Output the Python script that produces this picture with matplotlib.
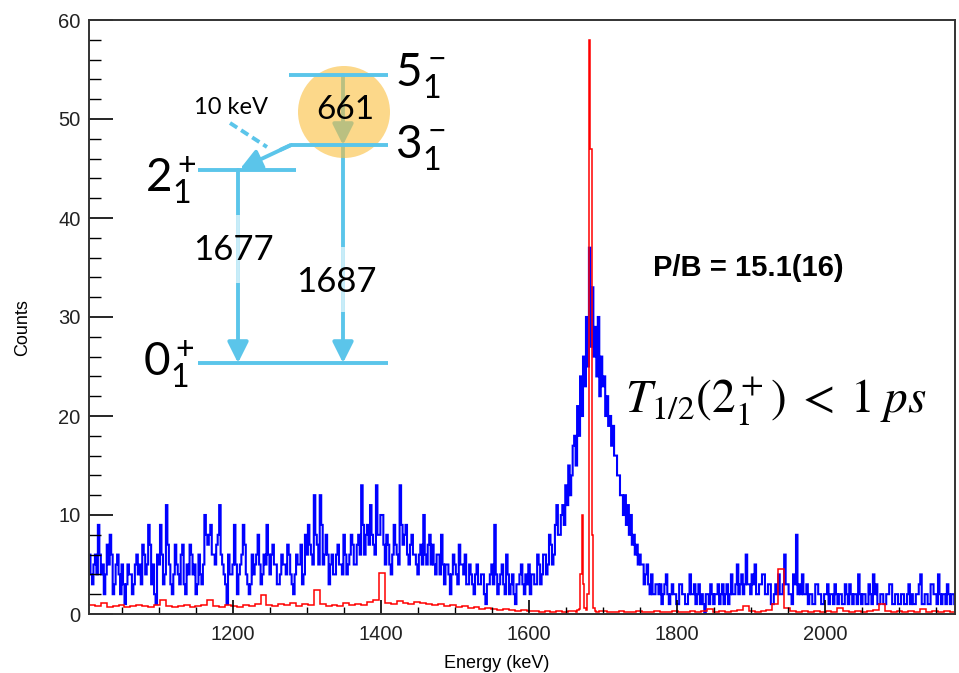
import numpy as np
import matplotlib
matplotlib.use("Agg")
import matplotlib.pyplot as plt
from matplotlib.patches import Ellipse, FancyArrowPatch
from matplotlib.lines import Line2D
from matplotlib.ticker import MultipleLocator

# --- blue spectrum, 2 keV bins starting at 1005 keV ---
blue_bin0 = 1005
blue_width = 2
blue_counts = [
    # 1005 - 1157
    6, 4, 3, 5, 6, 4, 9, 6, 4, 5, 2, 4, 7, 5, 8, 6, 2, 3, 5, 6,
    4, 2, 5, 3, 1, 3, 5, 4, 4, 2, 3, 5, 6, 4, 5, 3, 7, 6, 4, 5,
    9, 7, 3, 5, 2, 1, 6, 5, 9, 6, 3, 4, 11, 7, 5, 3, 2, 4, 7, 5,
    4, 3, 6, 7, 3, 2, 5, 4, 7, 6, 4, 5, 2, 3, 6, 4,
    # 1157 - 1309
    3, 5, 10, 8, 7, 8, 9, 6, 6, 5, 7, 8, 11, 6, 5, 4, 3, 1, 6, 4,
    4, 5, 9, 5, 2, 4, 5, 6, 9, 7, 4, 3, 2, 3, 6, 4, 5, 6, 8, 5,
    3, 4, 6, 5, 9, 6, 4, 6, 7, 5, 5, 3, 3, 4, 6, 5, 5, 4, 7, 6,
    4, 3, 2, 4, 6, 5, 5, 7, 3, 4, 8, 6, 9, 7, 6, 5,
    # 1309 - 1457
    12, 8, 7, 5, 12, 9, 5, 6, 8, 6, 3, 5, 6, 4, 4, 6, 7, 5, 5, 4,
    8, 6, 4, 5, 6, 8, 7, 5, 5, 7, 8, 6, 13, 9, 6, 8, 9, 7, 11, 8,
    7, 6, 13, 8, 8, 10, 10, 7, 5, 8, 7, 5, 4, 6, 9, 7, 6, 5, 13, 9,
    7, 8, 9, 6, 5, 7, 8, 6, 6, 5, 4, 6, 7, 5,
    # 1457 - 1597
    10, 6, 5, 7, 8, 5, 7, 5, 4, 6, 6, 4, 8, 5, 3, 5, 5, 4, 2, 4,
    6, 5, 4, 3, 7, 5, 5, 4, 6, 3, 3, 5, 4, 3, 2, 4, 5, 3, 3, 4,
    4, 2, 1, 3, 3, 4, 5, 3, 9, 4, 2, 3, 4, 5, 3, 2, 6, 4, 2, 3,
    4, 2, 1, 3, 3, 4, 5, 3, 2, 4,
    # 1597 - 1777 (peak)
    3, 5, 2, 4, 4, 3, 3, 6, 5, 3, 4, 6, 6, 4, 5, 8, 7, 5, 6, 9,
    11, 8, 8, 10, 11, 9, 13, 11, 15, 12, 14, 17, 18, 15, 21, 18, 24, 20, 26, 23,
    30, 25, 37, 27, 33, 26, 29, 24, 30, 22, 26, 23, 24, 20, 22, 19, 20, 17, 19, 16,
    16, 14, 14, 12, 12, 10, 12, 9, 11, 8, 10, 7, 8, 6, 7, 5, 6, 5, 5, 3,
    4, 5, 3, 2, 4, 2, 2, 3, 3, 2,
    # 1777 - 2177
    3, 1, 2, 3, 4, 2, 1, 2, 3, 2, 2, 1, 1, 3, 3, 2, 2, 1, 1, 2,
    4, 2, 2, 3, 1, 2, 3, 1, 2, 1, 0, 2, 2, 1, 3, 2, 1, 2, 2, 3,
    1, 2, 3, 1, 2, 3, 1, 2, 4, 2, 2, 3, 5, 2, 3, 4, 2, 3, 6, 3,
    3, 2, 4, 3, 5, 2, 2, 3, 3, 4, 4, 2, 2, 3, 3, 1, 1, 2, 3, 2,
    4, 2, 2, 3, 6, 3, 3, 2, 2, 1, 4, 3, 8, 2, 3, 2, 4, 2, 2, 3,
    1, 2, 2, 1, 1, 3, 3, 2, 2, 1, 1, 2, 2, 3, 1, 2, 2, 1, 3, 2,
    1, 2, 2, 1, 1, 3, 2, 1, 3, 2, 1, 2, 2, 1, 4, 2, 1, 2, 2, 1,
    1, 3, 2, 1, 4, 2, 3, 1, 1, 2, 2, 1, 1, 2, 2, 3, 3, 1, 1, 2,
    2, 1, 1, 2, 2, 1, 1, 2, 3, 1, 2, 1, 1, 2, 2, 3, 4, 1, 1, 2,
    2, 1, 1, 3, 3, 2, 2, 1, 4, 2, 1, 2, 2, 1, 3, 2, 1, 2, 2, 1,
]

# --- red spectrum: 8 keV bins, 2 keV bins around the peak, 8 keV after ---
red_low = [
    0.9, 0.8, 1.1, 0.7, 0.8, 0.9, 0.7, 0.8, 0.9, 0.8, 0.7, 0.9, 1.4, 0.8, 0.7, 0.8,
    0.9, 0.7, 0.8, 0.9, 1.4, 0.8, 0.7, 0.9, 0.8, 0.7, 0.9, 0.8, 1.0, 1.9, 0.9, 0.8,
    1.0, 0.9, 1.1, 0.8, 1.0, 0.9, 2.4, 1.0, 0.8, 0.9, 0.8, 1.1, 0.9, 1.0, 0.9, 1.2,
    1.4, 4.1, 1.1, 1.0, 1.3, 1.1, 1.0, 1.2, 1.1, 1.0, 0.9, 1.0, 0.8, 0.9, 0.7, 0.8,
    0.6, 0.7, 0.5, 0.6, 0.5, 0.4, 0.5, 0.4, 0.3, 0.4, 0.3, 0.3, 0.2, 0.3, 0.2, 0.3,
    0.2, 0.3,
]
red_peak = [0.3, 0.2, 0.4, 0.5, 4.0, 10, 3.0, 0.6, 0.4, 2.0, 58, 47, 8, 0.6,
            0.3, 0.2, 0.2, 0.3]
red_high = [
    0.3, 0.2, 0.2, 0.3, 0.2, 0.2, 0.3, 0.2, 0.2, 0.3, 0.2, 0.2, 0.3, 0.2, 0.2, 0.3,
    0.2, 0.3, 0.5, 0.2, 0.3, 0.2, 0.3, 0.4, 0.8, 0.3, 0.2, 0.3, 0.4, 1.0, 4.5, 0.6,
    0.3, 0.2, 0.3, 0.2, 0.3, 0.2, 0.3, 0.2, 0.6, 0.3, 0.2, 0.3, 0.2, 0.3, 0.4, 1.0,
    0.3, 0.2, 0.3, 0.2, 0.3, 0.2, 0.5, 0.2, 0.3, 0.2, 0.3, 0.2,
]

x_range = (1005, 2176)
y_range = (0, 60)

W, H = 959, 673


def P(x, y):
    # pixel position -> figure fraction
    return (x / W, 1 - y / H)


blue_edges = blue_bin0 + blue_width * np.arange(len(blue_counts) + 1)
e1 = blue_bin0 + 8 * np.arange(len(red_low) + 1)
e2 = e1[-1] + 2 * np.arange(1, len(red_peak) + 1)
e3 = e2[-1] + 8 * np.arange(1, len(red_high) + 1)
red_edges = np.concatenate([e1, e2, e3])
red_counts = red_low + red_peak + red_high

fig = plt.figure(figsize=(W / 100, H / 100), dpi=100)
ax = fig.add_axes([89 / W, 1 - 614 / H, (955 - 89) / W, (614 - 20) / H])

ax.stairs(blue_counts, blue_edges, color="#0000ff", lw=1.5, baseline=None)
ax.stairs(red_counts, red_edges, color="#ff0000", lw=1.1, baseline=None)

ax.set_xlim(*x_range)
ax.set_ylim(*y_range)

ax.xaxis.set_major_locator(MultipleLocator(200))
ax.xaxis.set_minor_locator(MultipleLocator(50))
ax.yaxis.set_major_locator(MultipleLocator(10))
ax.yaxis.set_minor_locator(MultipleLocator(2))
ax.tick_params(axis="y", which="major", direction="in", length=17, width=1.2, pad=6)
ax.tick_params(axis="y", which="minor", direction="in", length=8.5, width=1.0)
ax.tick_params(axis="x", which="major", direction="in", length=10, width=1.2, pad=8)
ax.tick_params(axis="x", which="minor", direction="in", length=5, width=1.0)
for lab in ax.get_xticklabels() + ax.get_yticklabels():
    lab.set_fontfamily("Liberation Sans")
    lab.set_fontsize(14.5)
    lab.set_color("#222222")
for s in ax.spines.values():
    s.set_linewidth(1.4)
    s.set_color("#333333")

ax.set_xlabel("Energy (keV)", fontfamily="Liberation Sans", fontsize=13)
ax.set_ylabel("Counts", fontfamily="Liberation Sans", fontsize=13)
ax.xaxis.set_label_coords((497 - 89) / (955 - 89), -(655 - 614) / (614 - 20))
ax.yaxis.set_label_coords(-(89 - 31) / (955 - 89), (614 - 328) / (614 - 20))

# --- level scheme overlay ---
lc = "#5bc5ea"
light = "#c8ecf8"
lw = 2.8


def seg(x0, y0, x1, y1, color=lc, ls="-"):
    fig.add_artist(Line2D([x0 / W, x1 / W], [1 - y0 / H, 1 - y1 / H],
                          color=color, lw=lw, ls=ls, transform=fig.transFigure,
                          solid_capstyle="butt"))


def arrow(x0, y0, x1, y1):
    fig.add_artist(FancyArrowPatch(P(x0, y0), P(x1, y1), transform=fig.transFigure,
                                   arrowstyle="-|>,head_length=0.9,head_width=0.45",
                                   mutation_scale=14, color=lc, lw=lw,
                                   shrinkA=0, shrinkB=0))


# levels
seg(289, 75, 388, 75)
seg(291, 145, 388, 145)
seg(198, 170, 296, 170)
seg(198, 363, 388, 363)

# 1677 and 1687 transitions, faded behind the labels
arrow(238, 170, 238, 363)
seg(238, 215, 238, 283, color=light)
arrow(343, 145, 343, 363)
seg(343, 247, 343, 312, color=light)
# 661 and 10 keV transitions
arrow(343, 75, 343, 145)
seg(291, 145, 280, 150)
arrow(291, 145, 240, 169)
seg(230, 123, 267, 147, ls=(0, (2.2, 1.2)))

lab_font = "Lato"
fig.text(*P(233, 250), "1677", fontsize=25, family=lab_font, ha="center", va="center")
fig.text(*P(336, 282), "1687", fontsize=25, family=lab_font, ha="center", va="center")
fig.text(*P(345, 110), "661", fontsize=24, family=lab_font, ha="center", va="center")
fig.text(*P(231, 107), "10 keV", fontsize=17, family=lab_font, ha="center", va="center")

fig.add_artist(Ellipse(P(344, 112), 92 / W, 92 / H, transform=fig.transFigure,
                       facecolor=(250 / 255, 190 / 255, 60 / 255), alpha=0.6,
                       edgecolor="none"))

plt.rcParams["mathtext.fontset"] = "custom"
plt.rcParams["mathtext.rm"] = "Lato"
plt.rcParams["mathtext.it"] = "Lato:italic"
lev = dict(fontsize=33, family=lab_font, ha="center", va="center")
fig.text(*P(420, 75), r"$\mathregular{5_1^-}$", **lev)
fig.text(*P(420, 147), r"$\mathregular{3_1^-}$", **lev)
fig.text(*P(171, 180), r"$\mathregular{2_1^+}$", **lev)
fig.text(*P(169, 364), r"$\mathregular{0_1^+}$", **lev)

fig.text(*P(748, 268), "P/B = 15.1(16)", fontsize=21, family="Liberation Sans",
         fontweight="bold", ha="center", va="center")

t = fig.text(*P(776, 401), r"$T_{1/2}(2_1^+)\;<\;1\;ps$", fontsize=34,
             ha="center", va="center")
t.set_math_fontfamily("stix")

fig.savefig("out.png", dpi=100)
